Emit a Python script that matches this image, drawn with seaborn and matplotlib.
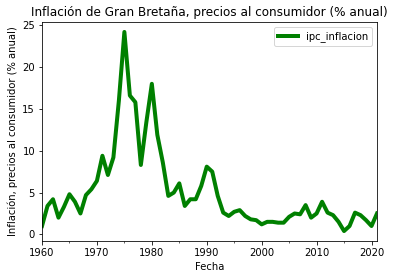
import matplotlib
matplotlib.use("Agg")
import matplotlib.pyplot as plt
from matplotlib.ticker import MultipleLocator
import seaborn as sns
import pandas as pd

years = list(range(1960, 2022))
ipc_inflacion = [1.0, 3.4, 4.2, 2.0, 3.3, 4.8, 3.9, 2.5, 4.7, 5.4,
                 6.4, 9.4, 7.1, 9.2, 16.0, 24.2, 16.6, 15.8, 8.3, 13.4,
                 18.0, 11.9, 8.6, 4.6, 5.0, 6.1, 3.4, 4.2, 4.2, 5.8,
                 8.1, 7.5, 4.6, 2.6, 2.2, 2.7, 2.9, 2.2, 1.8, 1.7,
                 1.2, 1.5, 1.5, 1.4, 1.4, 2.1, 2.5, 2.4, 3.5, 2.0,
                 2.5, 3.9, 2.6, 2.3, 1.5, 0.4, 1.0, 2.6, 2.3, 1.7,
                 1.0, 2.5]

df = pd.DataFrame({"Fecha": years, "ipc_inflacion": ipc_inflacion})

fig = plt.figure(figsize=(394 / 72, 278 / 72), dpi=72)
ax = fig.add_axes([42 / 394, 1 - 241 / 278, (377 - 42) / 394, (241 - 22) / 278])
sns.lineplot(data=df, x="Fecha", y="ipc_inflacion", color="green", linewidth=4,
             label="ipc_inflacion", ax=ax)
ax.set_xlim(1960, 2021)
ax.xaxis.set_major_locator(MultipleLocator(10))
ax.xaxis.set_minor_locator(MultipleLocator(5))
ax.set_xlabel("Fecha")
ax.set_ylabel("Inflación, precios al consumidor (% anual)")
ax.set_title("Inflación de Gran Bretaña, precios al consumidor (% anual)")
ax.legend(loc="upper right")
fig.savefig("out.png", dpi=72)
